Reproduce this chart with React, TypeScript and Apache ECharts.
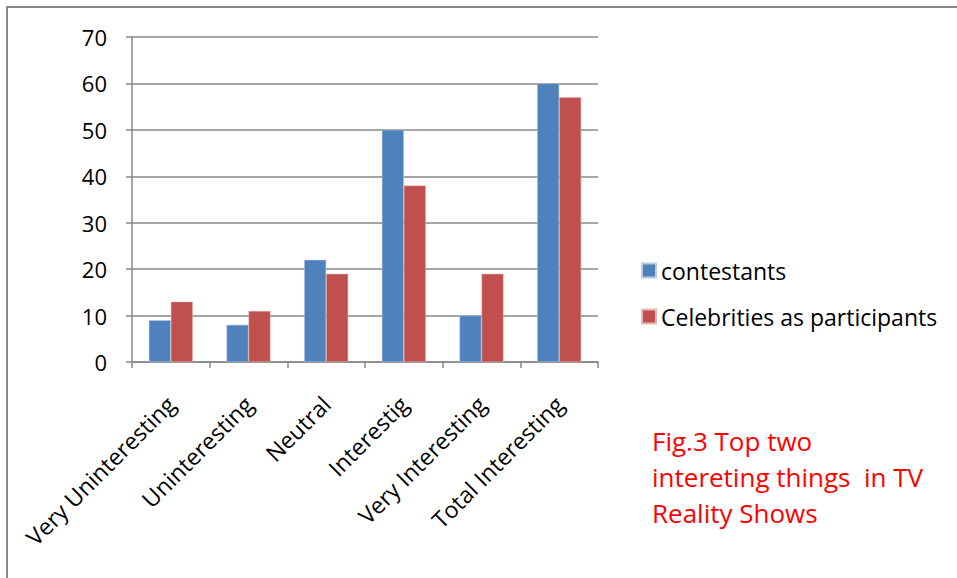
import React, { useEffect, useRef } from "react";
import * as echarts from "echarts";

const categories = [
  "Very Uninteresting",
  "Uninteresting",
  "Neutral",
  "Interestig",
  "Very Interesting",
  "Total Interesting",
];
const contestants = [9, 8, 22, 50, 10, 60];
const celebrities = [13, 11, 19, 38, 19, 57];
const seriesNames = ["contestants", "Celebrities as participants"];
const noteLines = ["Fig.3 Top two", "intereting things  in TV", "Reality Shows"];

const FONT = "'Open Sans', Lato, sans-serif";

export default function App() {
  const ref = useRef<HTMLDivElement>(null);
  useEffect(() => {
    if (!ref.current) return;
    const chart = echarts.init(ref.current, null, { renderer: "svg" });
    chart.setOption({
      animation: false,
      backgroundColor: "#ffffff",
      textStyle: { fontFamily: FONT },
      grid: { left: 132, top: 37, width: 466, height: 325, containLabel: false },
      legend: {
        orient: "vertical",
        left: 641,
        top: 259,
        padding: 0,
        itemWidth: 14,
        itemHeight: 14,
        itemGap: 23,
        icon: "rect",
        textStyle: { fontSize: 23, color: "#000", fontFamily: FONT },
        data: seriesNames,
      },
      xAxis: {
        type: "category",
        data: categories,
        axisLine: { lineStyle: { color: "#888", width: 1.5 } },
        axisTick: { show: true, length: 6, lineStyle: { color: "#888", width: 1.5 } },
        axisLabel: {
          rotate: 45,
          fontSize: 23,
          color: "#000",
          margin: 38,
          interval: 0,
          fontFamily: FONT,
        },
      },
      yAxis: {
        type: "value",
        min: 0,
        max: 70,
        interval: 10,
        axisLine: { show: true, lineStyle: { color: "#888", width: 1.5 } },
        axisTick: { show: true, length: 6, lineStyle: { color: "#888", width: 1.5 } },
        splitLine: { lineStyle: { color: "#888", width: 1.5 } },
        axisLabel: { fontSize: 22, color: "#000", margin: 25, fontFamily: FONT },
      },
      series: [
        {
          name: seriesNames[0],
          type: "bar",
          data: contestants,
          barWidth: 22,
          barGap: "0%",
          itemStyle: { color: "#4F81BD", borderColor: "#B9CDE5", borderWidth: 0.5 },
        },
        {
          name: seriesNames[1],
          type: "bar",
          data: celebrities,
          barWidth: 22,
          barGap: "0%",
          itemStyle: { color: "#C0504D", borderColor: "#E6B9B8", borderWidth: 0.5 },
        },
      ],
      graphic: [
        {
          type: "rect",
          shape: { x: 7, y: 7, width: 1000, height: 1000 },
          style: { fill: "none", stroke: "#888", lineWidth: 2 },
          silent: true,
        },
        ...noteLines.map((t, i) => ({
          type: "text",
          left: 652,
          top: 428 + i * 36,
          style: { text: t, fill: "#FF0000", fontSize: 26, fontFamily: FONT },
        })),
      ],
    });
    return () => chart.dispose();
  }, []);
  return (
    <div
      ref={ref}
      style={{ position: "absolute", left: 0, top: 0, width: 957, height: 578 }}
    />
  );
}
